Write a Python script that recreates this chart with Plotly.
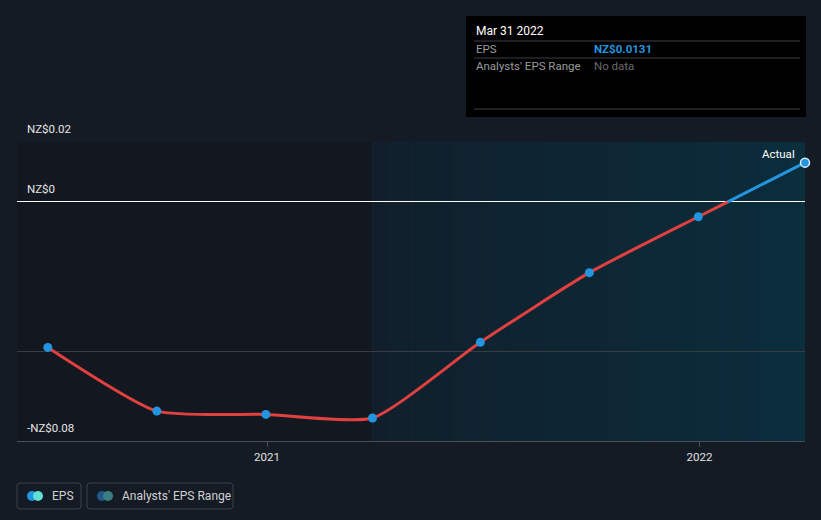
import plotly.graph_objects as go
import pandas as pd

# ---- data ----
dates = ["2020-06-30", "2020-09-30", "2020-12-31", "2021-03-31",
         "2021-06-30", "2021-09-30", "2021-12-31", "2022-03-31"]
eps = [-0.0487, -0.0700, -0.0711, -0.0723, -0.0470, -0.0237, -0.0050, 0.0131]
forecast_start = "2021-03-31"
x_range = ["2020-06-04", "2022-03-31"]
y_range = [-0.08, 0.02]
grid_vals = [0.02, -0.05, -0.08]
y_labels = {0.02: "NZ$0.02", 0.0: "NZ$0", -0.08: "-NZ$0.08"}
x_ticks = ["2021-01-01", "2022-01-01"]
x_ticktext = ["2021", "2022"]

BG = "#151b25"
RED = "#e0403f"
BLUE = "#2394df"

W, H = 821, 520
L, R, T, B = 17, 805, 142, 441


def px(x):
    return (x - L) / (R - L)


def py(y):
    return (B - y) / (B - T)


# split line at zero crossing (negative = red, positive = blue)
d = pd.to_datetime(dates)
i = next(k for k in range(1, len(eps)) if eps[k - 1] < 0 <= eps[k])
frac = -eps[i - 1] / (eps[i] - eps[i - 1])
cross = d[i - 1] + (d[i] - d[i - 1]) * frac

red_x = list(d[:i]) + [cross]
red_y = eps[:i] + [0.0]
blue_x = [cross] + list(d[i:])
blue_y = [0.0] + eps[i:]

fig = go.Figure()
fig.add_trace(go.Scatter(x=red_x, y=red_y, mode="lines",
                         line=dict(color=RED, width=3, shape="spline", smoothing=0.55),
                         hoverinfo="skip"))
fig.add_trace(go.Scatter(x=blue_x, y=blue_y, mode="lines",
                         line=dict(color=BLUE, width=3, shape="spline", smoothing=0.55),
                         hoverinfo="skip"))
fig.add_trace(go.Scatter(x=d, y=eps, mode="markers",
                         marker=dict(color=BLUE, size=9,
                                     line=dict(color=[BLUE] * (len(eps) - 1) + ["#d6ecff"],
                                               width=[0] * (len(eps) - 1) + [1.5])),
                         hoverinfo="skip", cliponaxis=False))

shapes = []
# past region (darker)
shapes.append(dict(type="rect", xref="x", yref="paper", x0=x_range[0], x1=forecast_start,
                   y0=0, y1=1, fillcolor="#131720", line=dict(width=0), layer="below"))
# forecast region gradient
fs = pd.Timestamp(forecast_start)
xe = pd.Timestamp(x_range[1])
n = 60
c0 = (0x10, 0x1f, 0x2b)
c1 = (0x0b, 0x2d, 0x3c)
for k in range(n):
    a = fs + (xe - fs) * (k / n)
    b = fs + (xe - fs) * ((k + 1.3) / n) if k < n - 1 else xe
    t = (k + 0.5) / n
    col = "rgb(%d,%d,%d)" % tuple(round(c0[j] + (c1[j] - c0[j]) * t) for j in range(3))
    shapes.append(dict(type="rect", xref="x", yref="paper", x0=a, x1=b, y0=0, y1=1,
                       fillcolor=col, line=dict(width=0), layer="below"))
# forecast boundary line
shapes.append(dict(type="line", xref="x", yref="paper", x0=forecast_start, x1=forecast_start,
                   y0=0, y1=1, line=dict(color="#17242f", width=1), layer="below"))

# tooltip box
shapes.append(dict(type="rect", xref="paper", yref="paper", x0=px(466), x1=px(806),
                   y0=py(117), y1=py(16), fillcolor="#000000", line=dict(width=0)))
for yy in (41, 58, 109):
    shapes.append(dict(type="line", xref="paper", yref="paper", x0=px(474), x1=px(800),
                       y0=py(yy), y1=py(yy), line=dict(color="#3c3f44", width=1)))

# legend boxes
def rbox(x0, y0, x1, y1, r=3):
    return ("M %f,%f L %f,%f Q %f,%f %f,%f L %f,%f Q %f,%f %f,%f L %f,%f Q %f,%f %f,%f "
            "L %f,%f Q %f,%f %f,%f Z") % (
        px(x0 + r), py(y0), px(x1 - r), py(y0), px(x1), py(y0), px(x1), py(y0 + r),
        px(x1), py(y1 - r), px(x1), py(y1), px(x1 - r), py(y1),
        px(x0 + r), py(y1), px(x0), py(y1), px(x0), py(y1 - r),
        px(x0), py(y0 + r), px(x0), py(y0), px(x0 + r), py(y0))


shapes.append(dict(type="path", xref="paper", yref="paper", path=rbox(17, 483, 81, 509),
                   line=dict(color="#3d434d", width=1)))
shapes.append(dict(type="path", xref="paper", yref="paper", path=rbox(87, 483, 233, 509),
                   line=dict(color="#3d434d", width=1)))


def circ(cx, cy, r, color):
    return dict(type="circle", xref="paper", yref="paper", x0=px(cx - r), x1=px(cx + r),
                y0=py(cy + r), y1=py(cy - r), fillcolor=color, line=dict(width=0))


shapes += [circ(32, 496, 5, BLUE), circ(38, 496, 5, "#5fe0d2"),
           circ(102, 496, 5, "#1f5a8a"), circ(108, 496, 5, "#3b7f80")]

annotations = []
for v, txt in y_labels.items():
    annotations.append(dict(x=px(25), xref="paper", y=v, yref="y", text=txt, showarrow=False,
                            xanchor="left", yanchor="bottom", yshift=4,
                            font=dict(size=11.5, color="#e6e6e6")))
annotations.append(dict(x=px(797), xref="paper", y=py(154), yref="paper", text="Actual",
                        showarrow=False, xanchor="right", yanchor="middle",
                        font=dict(size=11.5, color="#ffffff")))
# tooltip texts
annotations += [
    dict(x=px(474), y=py(31), text="Mar 31 2022", font=dict(size=12, color="#ffffff")),
    dict(x=px(474), y=py(49), text="EPS", font=dict(size=11.5, color="#9a9a9a")),
    dict(x=px(592), y=py(49), text="<b>NZ$0.0131</b>", font=dict(size=11.5, color=BLUE)),
    dict(x=px(474), y=py(66), text="Analysts' EPS Range", font=dict(size=11.5, color="#9a9a9a")),
    dict(x=px(592), y=py(66), text="No data", font=dict(size=11.5, color="#6a6a6a")),
]
for a in annotations[-5:]:
    a.update(xref="paper", yref="paper", showarrow=False, xanchor="left", yanchor="middle")
annotations += [
    dict(x=px(50), y=py(496), text="EPS"),
    dict(x=px(120), y=py(496), text="Analysts' EPS Range"),
]
for a in annotations[-2:]:
    a.update(xref="paper", yref="paper", showarrow=False, xanchor="left", yanchor="middle",
             font=dict(size=12, color="#d0d0d0"))

fig.update_layout(
    width=W, height=H,
    margin=dict(l=L, r=W - R, t=T, b=H - B, pad=0),
    paper_bgcolor=BG, plot_bgcolor=BG,
    font=dict(family="Roboto, Noto Sans, sans-serif", color="#dddddd"),
    showlegend=False,
    shapes=shapes, annotations=annotations,
    xaxis=dict(range=x_range, type="date", tickvals=x_ticks, ticktext=x_ticktext,
               showgrid=False, zeroline=False, showline=True, linecolor="#4a4f58",
               ticks="outside", ticklen=5, tickcolor="#4a4f58",
               tickfont=dict(size=11.5, color="#e0e0e0")),
    yaxis=dict(range=y_range, tickvals=grid_vals, showticklabels=False,
               showgrid=True, gridcolor="#373c45", gridwidth=1,
               zeroline=True, zerolinecolor="#ffffff", zerolinewidth=1),
)

fig.write_html("out.html")
